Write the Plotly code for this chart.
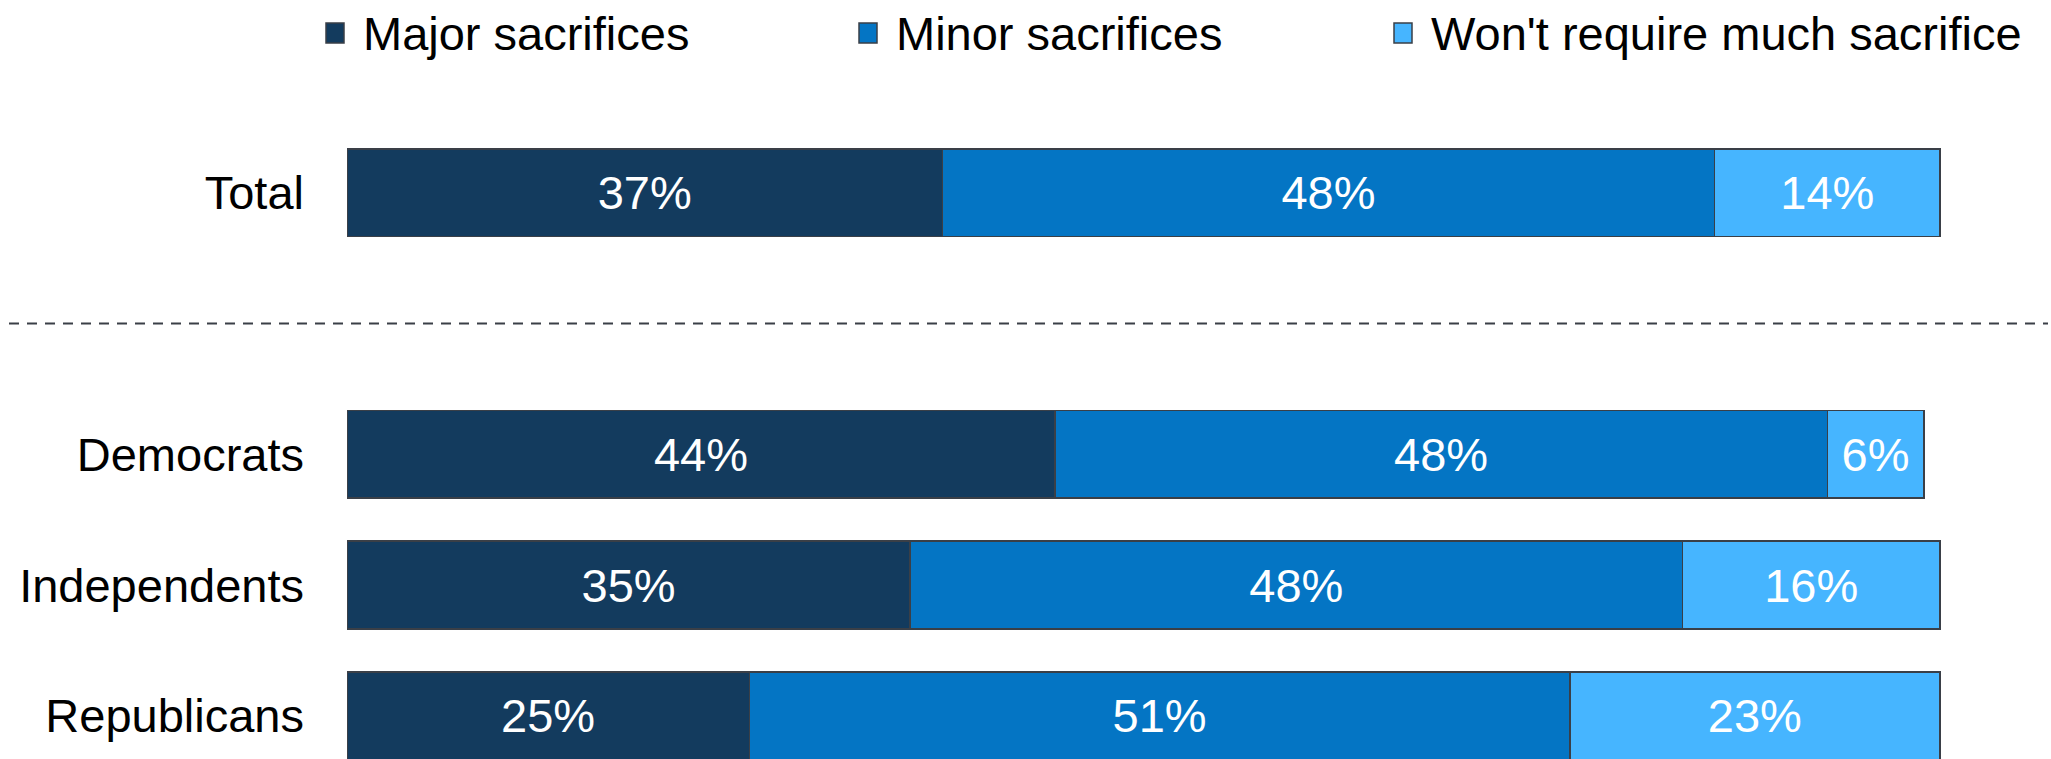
import plotly.graph_objects as go

categories = ["Total", "Democrats", "Independents", "Republicans"]
spacer = " "
major = [37, 44, 35, 25]
minor = [48, 48, 48, 51]
wont = [14, 6, 16, 23]
series_names = ["Major sacrifices", "Minor sacrifices", "Won't require much sacrifice"]
colors = ["#133B5E", "#0475C4", "#46B5FF"]

FONT = "Liberation Sans, Arial, sans-serif"
W, H = 2051, 759
ML, MR, MT, MB = 347, 95, 75, 0
PW, PH = W - ML - MR, H - MT - MB
EDGE = "#3A3F47"


def px_x(p):
    return (p - ML) / PW


def px_y(p):
    return 1 - (p - MT) / PH


fig = go.Figure()
for name, vals, col in zip(series_names, [major, minor, wont], colors):
    fig.add_trace(go.Bar(
        y=categories, x=vals, name=name, orientation="h",
        marker=dict(color=col, line=dict(color=EDGE, width=1.5)),
        width=0.67,
        text=[f"{v}%" for v in vals], textposition="inside",
        insidetextanchor="middle", textangle=0,
        textfont=dict(color="white", size=47, family=FONT),
        constraintext="none",
        hoverinfo="skip",
        showlegend=False,
    ))

fig.update_layout(
    barmode="stack",
    width=W, height=H,
    margin=dict(l=ML, r=MR, t=MT, b=MB, pad=0, autoexpand=False),
    paper_bgcolor="white", plot_bgcolor="white",
    font=dict(family=FONT, size=47, color="black"),
    showlegend=False,
    xaxis=dict(range=[0, 100], visible=False, fixedrange=True),
    yaxis=dict(
        type="category",
        categoryorder="array",
        categoryarray=[categories[0], spacer] + categories[1:],
        range=[4.33, -0.9],
        showgrid=False, zeroline=False, showline=False,
        ticks="", ticklabelstandoff=42,
        tickfont=dict(size=47, family=FONT, color="black"),
        fixedrange=True,
    ),
)

# legend (drawn manually for exact spacing)
legend_sq_x = [326, 859, 1394]
legend_y = 33
for name, col, sx in zip(series_names, colors, legend_sq_x):
    fig.add_shape(
        type="rect", xref="paper", yref="paper",
        x0=px_x(sx), x1=px_x(sx + 18),
        y0=px_y(legend_y - 10), y1=px_y(legend_y + 10),
        fillcolor=col, line=dict(color=EDGE, width=1.5),
    )
    fig.add_annotation(
        xref="paper", yref="paper", x=px_x(sx + 35), y=px_y(legend_y),
        xanchor="left", yanchor="middle", text=name, showarrow=False,
        font=dict(size=47, family=FONT, color="black"),
    )

# dashed separator between Total and party rows
fig.add_shape(
    type="line", xref="paper", yref="y",
    x0=px_x(9), x1=px_x(2048),
    y0=1, y1=1,
    line=dict(color=EDGE, width=2, dash="10px,8px"),
)

fig.write_html(
    "out.html",
    config={"displayModeBar": False},
    post_script="document.body.style.margin='0px';",
)
